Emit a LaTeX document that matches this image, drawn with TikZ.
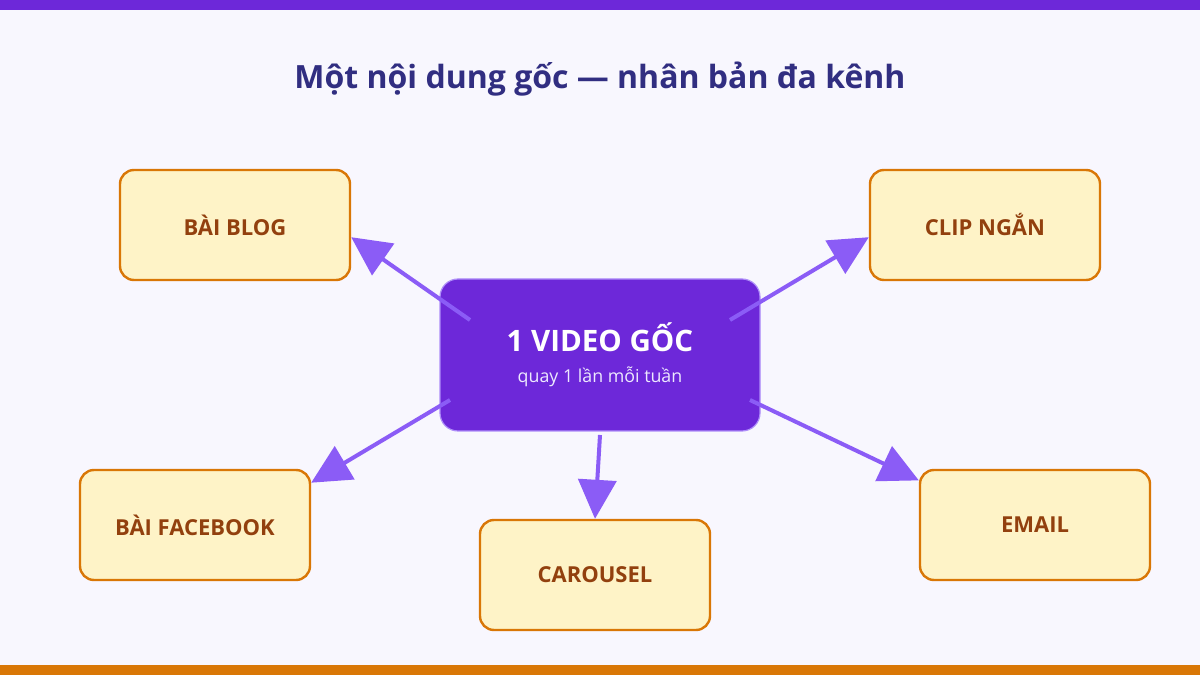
\documentclass[tikz,border=0pt]{standalone}
\usepackage{fontspec}
\setmainfont{Open Sans}
\usetikzlibrary{arrows.meta, positioning, calc}
\definecolor{rpviolet}{HTML}{6D28D9}
\definecolor{rparrow}{HTML}{8B5CF6}
\definecolor{rpindigo}{HTML}{312E81}
\definecolor{rpamber}{HTML}{D97706}
\definecolor{rpcream}{HTML}{FEF3C7}
\definecolor{rpbrown}{HTML}{92400E}
\definecolor{rpbg}{HTML}{F8F7FE}
\definecolor{rpsub}{HTML}{EDE9FE}

\begin{document}
\begin{tikzpicture}[x=1pt, y=1pt,
        channel/.style={draw=rpamber, line width=2.4pt, fill=rpcream, rounded corners=14pt,
                        minimum width=230pt, minimum height=110pt, text=rpbrown,
                        font=\fontsize{22}{26}\selectfont\bfseries},
        hubbox/.style={draw=rparrow!70, line width=1.2pt, fill=rpviolet, rounded corners=18pt,
                       minimum width=320pt, minimum height=152pt, align=center, text=white},
        spoke/.style={-{Triangle[length=39pt, width=38pt]}, rparrow, line width=4pt}]
        \fill[rpbg] (0,0) rectangle (1200,675);
        \fill[rpviolet] (0,665) rectangle (1200,675);
        \fill[rpamber] (0,0) rectangle (1200,10);
        \node[text=rpindigo, font=\fontsize{32}{38}\selectfont\bfseries] (title) at (600,596)
          {Một nội dung gốc — nhân bản đa kênh};
        \node[hubbox] (hub) at (600,320)
          {{\fontsize{29.5}{34}\selectfont\bfseries 1 VIDEO GỐC}\\[14pt]
           {\fontsize{17.8}{20}\selectfont\color{rpsub} quay 1 lần mỗi tuần}};
        \node[channel] (blog) at (235,450) {BÀI BLOG};
        \node[channel] (clip) at (985,450) {CLIP NGẮN};
        \node[channel] (fb) at (195,150) {BÀI FACEBOOK};
        \node[channel] (car) at (595,100) {CAROUSEL};
        \node[channel] (mail) at (1035,150) {EMAIL};
        \coordinate (s1) at ($(hub)+(-130,35)$);
        \coordinate (s2) at ($(hub)+(130,35)$);
        \coordinate (s3) at ($(hub)+(-150,-45)$);
        \coordinate (s4) at ($(hub)+(0,-80)$);
        \coordinate (s5) at ($(hub)+(150,-45)$);
        \draw[spoke] (s1) -- (blog.-6);
        \draw[spoke] (s2) -- (clip.186);
        \draw[spoke] (s3) -- (fb.20);
        \draw[spoke] (s4) -- (car.north);
        \draw[spoke] (s5) -- (mail.159);
      \end{tikzpicture}
\end{document}
